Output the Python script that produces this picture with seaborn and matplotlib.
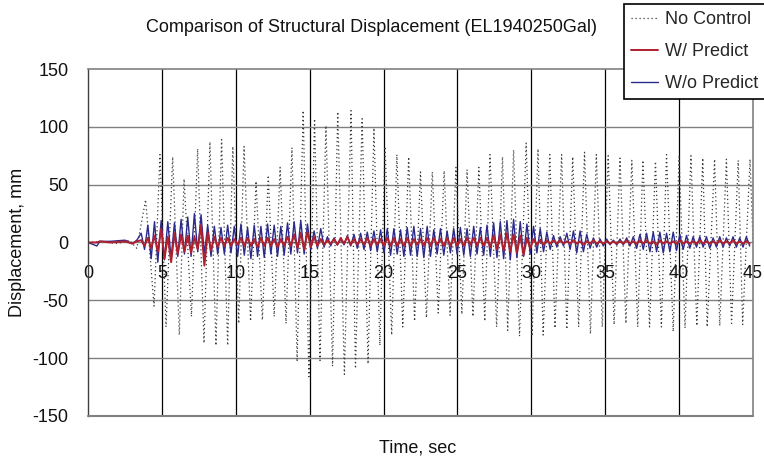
import numpy as np
import pandas as pd
import matplotlib
matplotlib.use("Agg")
import matplotlib.pyplot as plt
import seaborn as sns

sns.set_theme(style="white")
plt.rcParams['font.family'] = ['Liberation Sans', 'DejaVu Sans']

# ---- No Control: peak times (s) and displacements (mm)
nc_t = [0, 1.0, 2.0, 2.8, 3.3, 3.9, 4.47, 4.87, 5.28, 5.73, 6.18, 6.5, 7.0, 7.42, 7.85,
        8.25, 8.66, 9.04, 9.45, 9.8, 10.2, 10.56, 11.0, 11.37, 11.8, 12.2, 12.6, 13.0,
        13.4, 13.8, 14.15, 14.56, 14.95, 15.33, 15.7, 16.1, 16.55, 16.9, 17.35, 17.8,
        18.1, 18.55, 18.95, 19.35, 19.75, 20.1, 20.55, 20.9, 21.3, 21.7, 22.1, 22.5,
        22.9, 23.3, 23.7, 24.1, 24.5, 24.9, 25.3, 25.65, 26.05, 26.45, 26.85, 27.2,
        27.65, 28.05, 28.4, 28.8, 29.2, 29.65, 30.05, 30.45, 30.8, 31.25, 31.6, 32.05,
        32.4, 32.8, 33.2, 33.6, 34.0, 34.4, 34.8, 35.2, 35.6, 36.0, 36.4, 36.8, 37.2,
        37.55, 38.0, 38.4, 38.8, 39.15, 39.6, 40.0, 40.4, 40.8, 41.2, 41.6, 41.9, 42.4,
        42.75, 43.2, 43.55, 44.0, 44.3, 44.8, 45.0]
nc_v = [0, 1, -1, 2, -5, 37, -55, 76, -73, 74, -80, 55, -64, 81, -87,
        87, -89, 89, -89, 83, -70, 83, -68, 53, -67, 58, -64, 65,
        -70, 82, -103, 114, -116, 107, -102, 101, -107, 113, -114, 114,
        -109, 107, -105, 99, -89, 83, -80, 76, -73, 74, -68, 61,
        -65, 61, -61, 62, -63, 65, -62, 63, -64, 65, -68, 76,
        -73, 74, -76, 80, -81, 86, -81, 81, -80, 76, -74, 76,
        -75, 74, -73, 78, -79, 76, -73, 75, -71, 73, -70, 71, -73,
        71, -73, 70, -73, 76, -77, 74, -74, 75, -72, 73, -73, 72,
        -72, 72, -70, 71, -71, 72, 0]

# ---- quiet start (before shaking) for both controlled cases
pre_t = [0, 0.6, 0.8, 1.5, 2.5, 3.0, 3.3]
wo_pre = [0, -3, 1, 1, 2, -1, 2]
w_pre = [0, 0, 1, 0, 1, -1, 1]

# ---- W/o Predict: successive peaks every half-cycle from 3.6 s
peak_start, half_period = 3.6, 0.225
wo_peaks = [8, -6, 15, -14, 18, -17, 19, -15, 18, -14, 17, -12, 20, -10, 22, -12,
            25, -8, 24, -10, 15, -12, 14, -10, 13, -10, 15, -9, 14, -12, 16, -11,
            13, -14, 15, -12, 14, -13, 16, -10, 15, -12, 14, -11, 17, -10, 18, -9,
            19, -10, 16, -6, 10, -5, 12, -4, 5, -3, 4, -2, 3, -2, 6, -3,
            7, -5, 8, -6, 9, -7, 10, -8, 11, -9, 12, -11, 12, -10, 11, -12,
            13, -11, 14, -12, 12, -13, 14, -12, 11, -10, 12, -11, 10, -9, 12, -10,
            13, -11, 12, -12, 14, -10, 13, -11, 15, -12, 17, -13, 18, -14, 19, -15,
            20, -13, 18, -12, 16, -10, 14, -9, 12, -8, 9, -6, 6, -4, 5, -3,
            8, -6, 10, -9, 10, -8, 7, -5, 4, -4, 3, -3, 3, -2, 2, -2,
            3, -2, 4, -3, 5, -5, 7, -6, 8, -8, 9, -8, 9, -9, 8, -8,
            9, -7, 7, -6, 6, -5, 5, -4, 5, -4, 5, -5, 4, -4, 5, -4,
            4, -3, 5, -4, 4, -4, 5, -3]

# ---- W/ Predict: successive peaks every half-cycle from 3.6 s
w_peaks = [2, -3, 4, -5, 6, -8, 12, -14, 5, -17, 8, -10, 7, -8, 6, -9,
           5, -6, 15, -20, 9, -7, 5, -4, 4, -3, 4, -3, 3, -2, 4, -3,
           4, -3, 3, -4, 4, -3, 4, -3, 3, -4, 3, -3, 5, -3, 7, -5,
           8, -6, 9, -4, 5, -3, 3, -2, 2, -1, 3, -2, 4, -1, 5, -2,
           3, -2, 3, -2, 4, -3, 3, -2, 3, -3, 4, -3, 4, -3, 3, -3,
           4, -3, 3, -2, 3, -3, 4, -3, 4, -2, 3, -3, 4, -3, 4, -3,
           3, -3, 4, -2, 4, -3, 4, -3, 4, -4, 6, -6, 7, -7, 8, -8,
           7, -9, 6, -11, 4, -5, 3, -2, 2, -2, 2, -1, 2, -1, 2, -1,
           1, -1, 2, -1, 1, -2, 1, -1, 2, -1, 1, -1, 1, -1, 1, -1,
           1, -1, 2, -1, 1, -1, 2, -1, 2, -1, 1, -2, 2, -1, 1, -1,
           1, -1, 2, -1, 1, -1, 1, -1, 2, -1, 1, -1, 1, -1, 2, -1,
           1, -1, 2, -1, 1, -1, 1, -1]

wo_t = pre_t + [peak_start + half_period * i for i in range(len(wo_peaks))]
wo_v = wo_pre + wo_peaks
w_t = pre_t + [peak_start + half_period * i for i in range(len(w_peaks))]
w_v = w_pre + w_peaks

df_nc = pd.DataFrame({"Time": nc_t, "Disp": nc_v})
df_w = pd.DataFrame({"Time": w_t, "Disp": w_v})
df_wo = pd.DataFrame({"Time": wo_t, "Disp": wo_v})

xticks = [0, 5, 10, 15, 20, 25, 30, 35, 40, 45]
yticks = [-150, -100, -50, 0, 50, 100, 150]

fig = plt.figure(figsize=(7.64, 4.61), dpi=100)
ax = fig.add_axes([88 / 764, 1 - 416 / 461, (753 - 88) / 764, (416 - 69) / 461])

sns.lineplot(data=df_nc, x="Time", y="Disp", ax=ax, color="#3a3a3a", lw=0.9,
             linestyle=(0, (1, 2.2)), estimator=None, sort=False, label="No Control")
sns.lineplot(data=df_wo, x="Time", y="Disp", ax=ax, color="#2A2A8C", lw=1.0,
             estimator=None, sort=False, label="W/o Predict")
sns.lineplot(data=df_w, x="Time", y="Disp", ax=ax, color="#B0202E", lw=1.4,
             estimator=None, sort=False, label="W/ Predict")

ax.set_xlim(0, 45)
ax.set_ylim(-150, 150)
ax.set_xticks(xticks)
ax.set_yticks(yticks)
ax.set_xticklabels([str(v) for v in xticks])
ax.set_yticklabels([str(v) for v in yticks])

for v in xticks[1:-1]:
    ax.axvline(v, color="black", lw=0.9, zorder=0)
for v in yticks[1:-1]:
    ax.axhline(v, color="#808080", lw=1.0, zorder=0)

for s in ["top", "right"]:
    ax.spines[s].set_color("#808080")
    ax.spines[s].set_linewidth(1.2)
ax.spines["left"].set_color("#404040")
ax.spines["left"].set_linewidth(1.0)
ax.spines["bottom"].set_position(("data", 0))
ax.spines["bottom"].set_visible(False)
ax.axhline(-150, color="#808080", lw=1.5, clip_on=False, zorder=3)

ax.tick_params(axis="x", length=0, pad=16, labelsize=13, colors="#111111")
ax.tick_params(axis="y", length=0, pad=14, labelsize=13, colors="#111111")
ax.set_xlabel("")
ax.set_ylabel("")

fig.text(418 / 764, 1 - 448 / 461, "Time, sec", ha="center", va="center", fontsize=13, color="#111111")
fig.text(18 / 764, 1 - 242 / 461, "Displacement, mm", ha="center", va="center", rotation=90,
         fontsize=13, color="#111111")
fig.text(371 / 764, 1 - 28 / 461, "Comparison of Structural Displacement (EL1940250Gal)",
         ha="center", va="center", fontsize=13, color="#111111")

ax.get_legend().remove()
handles, labels = ax.get_legend_handles_labels()
order = [labels.index("No Control"), labels.index("W/ Predict"), labels.index("W/o Predict")]
leg = fig.legend([handles[i] for i in order], [labels[i] for i in order],
                 loc="upper left", bbox_to_anchor=(624 / 764, 1 - 4 / 461),
                 fontsize=13, frameon=True, fancybox=False, shadow=False,
                 edgecolor="black", framealpha=1, borderaxespad=0, handlelength=1.5,
                 handletextpad=0.35, labelspacing=0.82, borderpad=0.4)
leg.get_frame().set_linewidth(1.2)

fig.savefig("out.png", dpi=100)
